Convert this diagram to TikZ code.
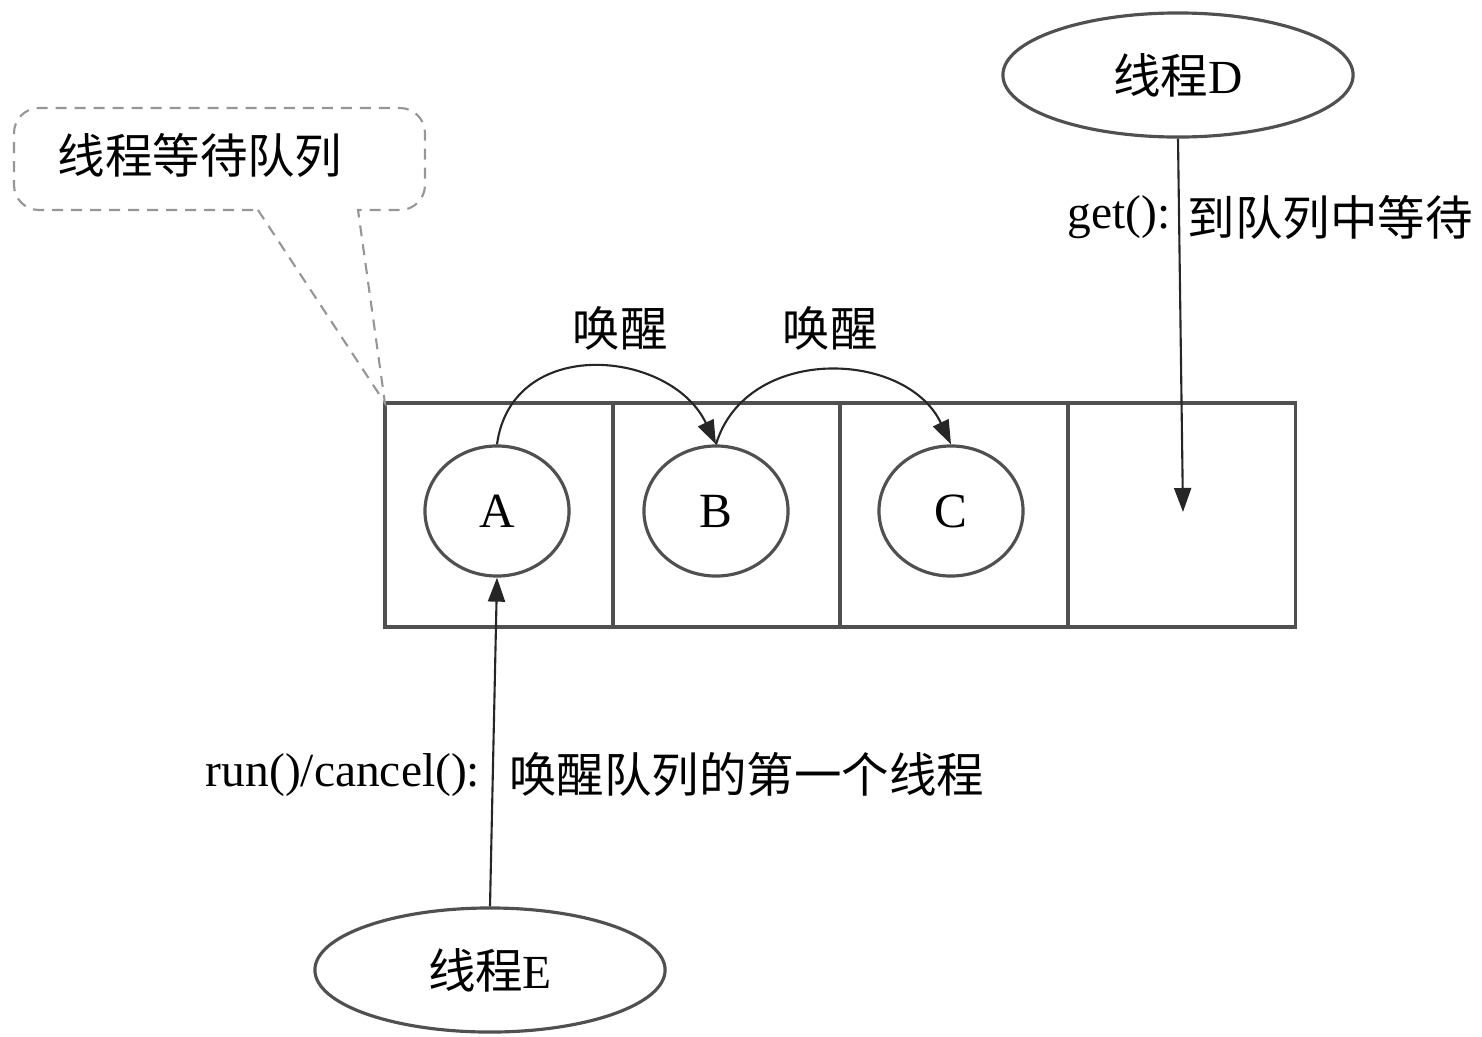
\documentclass[tikz,border=0pt]{standalone}
\usepackage{fontspec}
\setmainfont{Liberation Serif}
\newfontfamily\cjk{Noto Sans CJK SC}
\usepackage{tikz}
\usetikzlibrary{shapes, arrows.meta, positioning, calc}
\definecolor{boxgray}{RGB}{80, 80, 80}
\definecolor{dashgray}{RGB}{150, 150, 150}

\begin{document}
\begin{tikzpicture}[
  x=0.01cm, y=-0.01cm,
  cell/.style={draw=boxgray, line width=1.1pt, minimum width=2.275cm, minimum height=2.24cm, inner sep=0pt, outer sep=0pt},
  thread/.style={ellipse, draw=boxgray, line width=0.9pt, minimum width=1.44cm, minimum height=1.30cm, inner sep=0pt, font=\fontsize{14}{16}\selectfont},
  bigthread/.style={ellipse, draw=boxgray, line width=0.9pt, minimum width=3.5cm, minimum height=1.24cm, inner sep=0pt, font=\fontsize{13.5}{16}\selectfont},
  lbl/.style={font=\fontsize{13.5}{16}\selectfont, inner sep=0pt},
  flow/.style={draw=black!85, line width=0.6pt, -{Triangle[length=2.4mm, width=1.7mm]}},
  callout/.style={draw=dashgray, line width=0.6pt, dash pattern=on 1.1mm off 0.8mm}
]
  \useasboundingbox (0,0) rectangle (1482,1036);

  % the waiting queue
  \node[cell] (cell1) at (498.75,515) {};
  \node[cell, right=0pt of cell1] (cell2) {};
  \node[cell, right=0pt of cell2] (cell3) {};
  \node[cell, right=0pt of cell3] (cell4) {};

  \node[thread] (A) at (497,511) {A};
  \node[thread] (B) at (716,511) {B};
  \node[thread] (C) at (951,511) {C};
  \coordinate (slotD) at (1183,512);

  % threads outside the queue
  \node[bigthread] (D) at (1178,75) {{\cjk 线程}D};
  \node[bigthread] (E) at (490,970) {{\cjk 线程}E};

  % speech bubble
  \node[lbl] (qlabel) at (200,155) {\cjk 线程等待队列};
  \draw[callout] (258,210) -- (cell1.north west) -- (358,210)
    [rounded corners=0.25cm] -- (425,210) -- (425,108) -- (14,108) -- (14,210) -- (258,210);

  % wake-ups along the queue
  \draw[flow] (A.north) .. controls +(15,-110) and +(-45,-95) .. (B.north);
  \draw[flow] (B.north) .. controls +(30,-100) and +(-45,-95) .. (C.north);
  \node[lbl] (wake1) at (620,328) {\cjk 唤醒};
  \node[lbl] (wake2) at (830,328) {\cjk 唤醒};

  % get()
  \draw[flow] (D.south) -- (slotD);
  \coordinate (getpt) at ($(D.south)!0.21!(slotD)$);
  \node[lbl, left=0.08cm of getpt] (getl) {get():};
  \node[lbl, right=0.08cm of getpt] (getr) {\cjk 到队列中等待};

  % run()/cancel()
  \draw[flow] (E.north) -- (A.south);
  \coordinate (runpt) at ($(E.north)!0.40!(A.south)$);
  \node[lbl, left=0.12cm of runpt] (runl) {run()/cancel():};
  \node[lbl, right=0.16cm of runpt] (runr) {\cjk 唤醒队列的第一个线程};
\end{tikzpicture}
\end{document}
